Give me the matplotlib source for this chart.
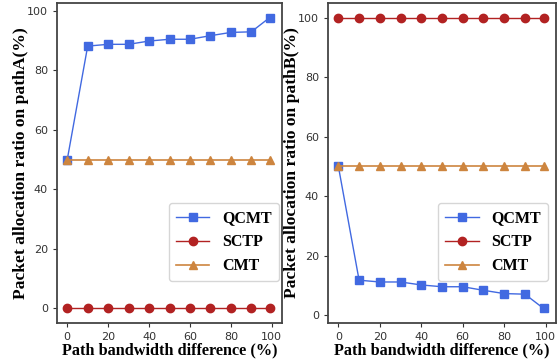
import matplotlib
matplotlib.use("Agg")
import matplotlib.pyplot as plt

bandwidth_diff = [0, 10, 20, 30, 40, 50, 60, 70, 80, 90, 99]
qcmt_a = [50, 88.2, 88.8, 88.8, 89.9, 90.5, 90.5, 91.7, 92.8, 93.0, 97.8]
sctp_a = [0] * 11
cmt_a = [50] * 11
qcmt_b = [50, 11.7, 11.1, 11.1, 10.1, 9.5, 9.5, 8.3, 7.2, 7.0, 2.2]
sctp_b = [100] * 11
cmt_b = [50] * 11

W, H = 560, 362
fig = plt.figure(figsize=(W / 100, H / 100), dpi=100)
ax_a = fig.add_axes([57 / W, 39 / H, 225 / W, 320 / H])
ax_b = fig.add_axes([328 / W, 39 / H, 228 / W, 320 / H])

panels = [
    (ax_a, qcmt_a, sctp_a, cmt_a, "Packet allocation ratio on pathA(%)", (0.987, 0.13)),
    (ax_b, qcmt_b, sctp_b, cmt_b, "Packet allocation ratio on pathB(%)", (0.967, 0.13)),
]

for ax, q, s, c, ylab, anchor in panels:
    ax.plot(bandwidth_diff, q, color="royalblue", marker="s", markersize=6, linewidth=1.0, label="QCMT")
    ax.plot(bandwidth_diff, s, color="firebrick", marker="o", markersize=6, linewidth=1.0, label="SCTP")
    ax.plot(bandwidth_diff, c, color="peru", marker="^", markersize=6, linewidth=1.2, label="CMT")
    ax.set_xlim(-5, 105)
    ax.set_xlabel("Path bandwidth difference (%)", family="Liberation Serif", weight="bold", fontsize=11.7)
    ax.set_ylabel(ylab, family="Liberation Serif", weight="bold", fontsize=12.6)
    ax.xaxis.set_label_coords(0.5, -0.06)
    ax.yaxis.set_label_coords(-0.123, 0.5)
    ax.set_xticks([0, 20, 40, 60, 80, 100])
    ax.set_yticks([0, 20, 40, 60, 80, 100])
    ax.tick_params(labelsize=8, colors="#333333", length=3)
    for sp in ax.spines.values():
        sp.set_color("#444444")
        sp.set_linewidth(1.3)
    ax.legend(loc="lower right", bbox_to_anchor=anchor, borderaxespad=0,
              prop={"family": "Liberation Serif", "weight": "bold", "size": 11.5},
              handlelength=2.1, handletextpad=0.8, borderpad=0.45, labelspacing=0.5)

fig.savefig("out.png", dpi=100)
